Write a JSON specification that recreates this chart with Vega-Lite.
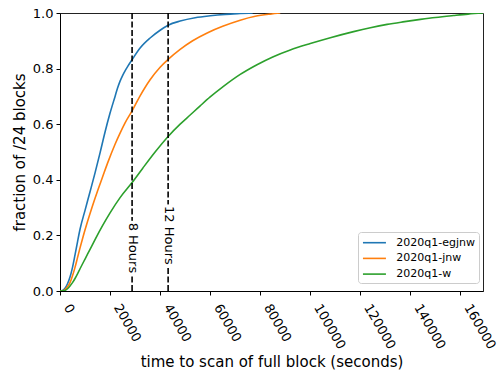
{
  "$schema": "https://vega.github.io/schema/vega-lite/v6.json",
  "width": 423,
  "height": 278,
  "autosize": {"type": "none"},
  "padding": {"left": 60, "top": 13, "right": 16, "bottom": 82},
  "config": {
    "font": "DejaVu Sans",
    "view": {"stroke": "#222222", "strokeWidth": 1},
    "axis": {
      "grid": false,
      "domainColor": "black",
      "tickColor": "black",
      "labelColor": "black",
      "titleColor": "black",
      "labelFont": "DejaVu Sans",
      "titleFont": "DejaVu Sans",
      "labelFontSize": 13,
      "titleFontSize": 15,
      "titleFontWeight": "normal",
      "tickSize": 4,
      "domainWidth": 1,
      "tickWidth": 1
    }
  },
  "datasets": {
    "curves": [
      {"series": "2020q1-egjnw", "t": 0, "f": 0},
      {"series": "2020q1-egjnw", "t": 1000, "f": 0.002},
      {"series": "2020q1-egjnw", "t": 2000, "f": 0.01},
      {"series": "2020q1-egjnw", "t": 3000, "f": 0.026},
      {"series": "2020q1-egjnw", "t": 4000, "f": 0.05},
      {"series": "2020q1-egjnw", "t": 5000, "f": 0.085},
      {"series": "2020q1-egjnw", "t": 6000, "f": 0.13},
      {"series": "2020q1-egjnw", "t": 7000, "f": 0.177},
      {"series": "2020q1-egjnw", "t": 8000, "f": 0.222},
      {"series": "2020q1-egjnw", "t": 10000, "f": 0.29},
      {"series": "2020q1-egjnw", "t": 12000, "f": 0.357},
      {"series": "2020q1-egjnw", "t": 14000, "f": 0.425},
      {"series": "2020q1-egjnw", "t": 16000, "f": 0.497},
      {"series": "2020q1-egjnw", "t": 18000, "f": 0.572},
      {"series": "2020q1-egjnw", "t": 20000, "f": 0.64},
      {"series": "2020q1-egjnw", "t": 22000, "f": 0.7},
      {"series": "2020q1-egjnw", "t": 23000, "f": 0.73},
      {"series": "2020q1-egjnw", "t": 24000, "f": 0.755},
      {"series": "2020q1-egjnw", "t": 25000, "f": 0.775},
      {"series": "2020q1-egjnw", "t": 26000, "f": 0.792},
      {"series": "2020q1-egjnw", "t": 27000, "f": 0.807},
      {"series": "2020q1-egjnw", "t": 28800, "f": 0.832},
      {"series": "2020q1-egjnw", "t": 32000, "f": 0.874},
      {"series": "2020q1-egjnw", "t": 36000, "f": 0.91},
      {"series": "2020q1-egjnw", "t": 40000, "f": 0.938},
      {"series": "2020q1-egjnw", "t": 43200, "f": 0.956},
      {"series": "2020q1-egjnw", "t": 48000, "f": 0.971},
      {"series": "2020q1-egjnw", "t": 54000, "f": 0.983},
      {"series": "2020q1-egjnw", "t": 60000, "f": 0.99},
      {"series": "2020q1-egjnw", "t": 66000, "f": 0.995},
      {"series": "2020q1-egjnw", "t": 72000, "f": 0.998},
      {"series": "2020q1-egjnw", "t": 77000, "f": 1.0},
      {"series": "2020q1-jnw", "t": 0, "f": 0},
      {"series": "2020q1-jnw", "t": 1500, "f": 0.002},
      {"series": "2020q1-jnw", "t": 3000, "f": 0.015},
      {"series": "2020q1-jnw", "t": 4000, "f": 0.03},
      {"series": "2020q1-jnw", "t": 5000, "f": 0.055},
      {"series": "2020q1-jnw", "t": 6000, "f": 0.085},
      {"series": "2020q1-jnw", "t": 7000, "f": 0.12},
      {"series": "2020q1-jnw", "t": 8000, "f": 0.155},
      {"series": "2020q1-jnw", "t": 9300, "f": 0.198},
      {"series": "2020q1-jnw", "t": 11000, "f": 0.25},
      {"series": "2020q1-jnw", "t": 13000, "f": 0.307},
      {"series": "2020q1-jnw", "t": 15000, "f": 0.36},
      {"series": "2020q1-jnw", "t": 17000, "f": 0.41},
      {"series": "2020q1-jnw", "t": 19000, "f": 0.46},
      {"series": "2020q1-jnw", "t": 22000, "f": 0.528},
      {"series": "2020q1-jnw", "t": 24000, "f": 0.568},
      {"series": "2020q1-jnw", "t": 26000, "f": 0.605},
      {"series": "2020q1-jnw", "t": 28800, "f": 0.648},
      {"series": "2020q1-jnw", "t": 32000, "f": 0.702},
      {"series": "2020q1-jnw", "t": 36000, "f": 0.76},
      {"series": "2020q1-jnw", "t": 40000, "f": 0.805},
      {"series": "2020q1-jnw", "t": 43200, "f": 0.833},
      {"series": "2020q1-jnw", "t": 48000, "f": 0.869},
      {"series": "2020q1-jnw", "t": 53000, "f": 0.9},
      {"series": "2020q1-jnw", "t": 59000, "f": 0.929},
      {"series": "2020q1-jnw", "t": 65000, "f": 0.952},
      {"series": "2020q1-jnw", "t": 72000, "f": 0.974},
      {"series": "2020q1-jnw", "t": 78000, "f": 0.988},
      {"series": "2020q1-jnw", "t": 84000, "f": 0.996},
      {"series": "2020q1-jnw", "t": 88000, "f": 1.0},
      {"series": "2020q1-w", "t": 0, "f": 0},
      {"series": "2020q1-w", "t": 2000, "f": 0.002},
      {"series": "2020q1-w", "t": 3000, "f": 0.008},
      {"series": "2020q1-w", "t": 4000, "f": 0.018},
      {"series": "2020q1-w", "t": 5000, "f": 0.03},
      {"series": "2020q1-w", "t": 6000, "f": 0.045},
      {"series": "2020q1-w", "t": 7000, "f": 0.062},
      {"series": "2020q1-w", "t": 8000, "f": 0.08},
      {"series": "2020q1-w", "t": 10000, "f": 0.115},
      {"series": "2020q1-w", "t": 12000, "f": 0.15},
      {"series": "2020q1-w", "t": 14000, "f": 0.185},
      {"series": "2020q1-w", "t": 17000, "f": 0.235},
      {"series": "2020q1-w", "t": 20000, "f": 0.281},
      {"series": "2020q1-w", "t": 24000, "f": 0.336},
      {"series": "2020q1-w", "t": 28800, "f": 0.39},
      {"series": "2020q1-w", "t": 33000, "f": 0.441},
      {"series": "2020q1-w", "t": 38000, "f": 0.5},
      {"series": "2020q1-w", "t": 43200, "f": 0.556},
      {"series": "2020q1-w", "t": 48000, "f": 0.6},
      {"series": "2020q1-w", "t": 52000, "f": 0.633},
      {"series": "2020q1-w", "t": 56000, "f": 0.666},
      {"series": "2020q1-w", "t": 60000, "f": 0.698},
      {"series": "2020q1-w", "t": 65300, "f": 0.736},
      {"series": "2020q1-w", "t": 72000, "f": 0.779},
      {"series": "2020q1-w", "t": 78700, "f": 0.814},
      {"series": "2020q1-w", "t": 85000, "f": 0.842},
      {"series": "2020q1-w", "t": 92000, "f": 0.867},
      {"series": "2020q1-w", "t": 100000, "f": 0.89},
      {"series": "2020q1-w", "t": 108000, "f": 0.911},
      {"series": "2020q1-w", "t": 117300, "f": 0.933},
      {"series": "2020q1-w", "t": 124000, "f": 0.947},
      {"series": "2020q1-w", "t": 130700, "f": 0.959},
      {"series": "2020q1-w", "t": 137000, "f": 0.968},
      {"series": "2020q1-w", "t": 144000, "f": 0.977},
      {"series": "2020q1-w", "t": 150000, "f": 0.984},
      {"series": "2020q1-w", "t": 157300, "f": 0.991},
      {"series": "2020q1-w", "t": 163000, "f": 0.996},
      {"series": "2020q1-w", "t": 169000, "f": 1.0}
    ],
    "marks": [
      {"t": 28800, "f": 0.155, "label": "8 Hours"},
      {"t": 43200, "f": 0.2, "label": "12 Hours"}
    ]
  },
  "layer": [
    {
      "data": {"name": "curves"},
      "mark": {"type": "line", "strokeWidth": 1.6, "interpolate": "monotone", "clip": true},
      "encoding": {
        "x": {
          "field": "t", "type": "quantitative",
          "scale": {"domain": [0, 169000], "nice": false, "zero": false},
          "axis": {
            "values": [0, 20000, 40000, 60000, 80000, 100000, 120000, 140000, 160000],
            "format": "d",
            "labelAngle": 60,
            "labelAlign": "left",
            "labelBaseline": "alphabetic",
            "labelPadding": 11.7,
            "labelOffset": 3,
            "labelFlush": false,
            "labelOverlap": false,
            "title": "time to scan of full block (seconds)",
            "titleX": 211.5,
            "titleY": 75,
            "titleAlign": "center",
            "titleBaseline": "alphabetic"
          }
        },
        "y": {
          "field": "f", "type": "quantitative",
          "scale": {"domain": [0, 1], "nice": false},
          "axis": {
            "values": [0, 0.2, 0.4, 0.6, 0.8, 1.0],
            "format": ".1f",
            "labelPadding": 3,
            "labelFlush": false,
            "title": "fraction of /24 blocks",
            "titleX": -41,
            "titleY": 139,
            "titleAngle": -90,
            "titleAlign": "center",
            "titleBaseline": "middle"
          }
        },
        "color": {
          "field": "series", "type": "nominal",
          "scale": {
            "domain": ["2020q1-egjnw", "2020q1-jnw", "2020q1-w"],
            "range": ["#1f77b4", "#ff7f0e", "#2ca02c"]
          },
          "legend": {
            "orient": "none",
            "legendX": 298,
            "legendY": 219,
            "title": null,
            "symbolType": "M-1,0L3,0",
            "symbolSize": 132,
            "symbolStrokeWidth": 1.6,
            "labelFont": "DejaVu Sans",
            "labelFontSize": 11,
            "labelColor": "black",
            "labelOffset": 20.5,
            "rowPadding": 3.7,
            "padding": 3.7,
            "strokeColor": "#cccccc",
            "fillColor": "white",
            "cornerRadius": 3
          }
        }
      }
    },
    {
      "data": {"name": "marks"},
      "mark": {"type": "rule", "strokeDash": [6, 2.5], "strokeWidth": 1.6, "color": "black"},
      "encoding": {"x": {"field": "t", "type": "quantitative"}}
    },
    {
      "data": {"name": "marks"},
      "mark": {"type": "text", "angle": 90, "fontSize": 13, "font": "DejaVu Sans", "fill": "white", "stroke": "white", "strokeWidth": 6, "align": "center", "baseline": "middle", "dy": -1},
      "encoding": {
        "x": {"field": "t", "type": "quantitative"},
        "y": {"field": "f", "type": "quantitative"},
        "text": {"field": "label"}
      }
    },
    {
      "data": {"name": "marks"},
      "mark": {"type": "text", "angle": 90, "fontSize": 13, "font": "DejaVu Sans", "fill": "black", "align": "center", "baseline": "middle", "dy": -1},
      "encoding": {
        "x": {"field": "t", "type": "quantitative"},
        "y": {"field": "f", "type": "quantitative"},
        "text": {"field": "label"}
      }
    }
  ]
}
